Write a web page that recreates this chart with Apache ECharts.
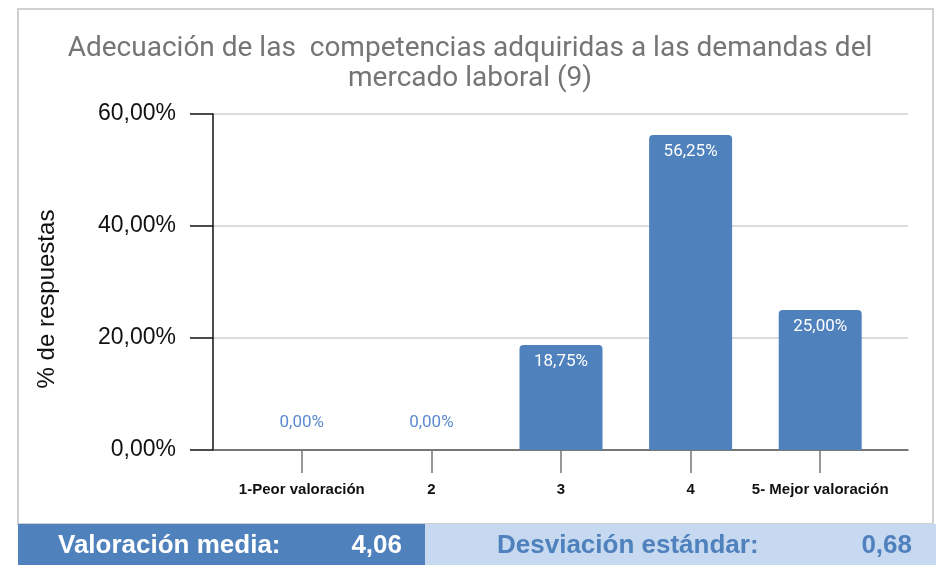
<!DOCTYPE html>
<html>
<head>
<meta charset="utf-8">
<script src="https://cdn.jsdelivr.net/npm/echarts@6/dist/echarts.min.js"></script>
<style>
    html, body { margin: 0; padding: 0; background: #fff; }
    #chartBox { width: 940px; height: 565px; }
</style>
</head>
<body>
<div id="chartBox"></div>
<script>
var categories = ['1-Peor valoración', '2', '3', '4', '5- Mejor valoración'];
var percentValues = [0, 0, 18.75, 56.25, 25];
var yTicks = [0, 20, 40, 60];
var mediaText = '4,06';
var desviacionText = '0,68';

var azul = '#4f81bd';

function fmt(v) {
    return v.toFixed(2).replace('.', ',') + '%';
}

var barData = [];
for (var i = 0; i < percentValues.length; i++) {
    var v = percentValues[i];
    var item = {value: v};
    if (v === 0) {
        // las barras vacías llevan la etiqueta en azul por encima
        item.label = {position: 'top', distance: 19, color: '#5b8bd0'};
    }
    barData.push(item);
}

var myChart1 = echarts.init(document.getElementById('chartBox'));
var option = {
    animation: false,
    title: {
        text: 'Adecuación de las  competencias adquiridas a las demandas del\nmercado laboral (9)',
        left: 'center',
        top: 29,
        textStyle: {
            fontFamily: 'Roboto',
            fontWeight: 'normal',
            fontSize: 28,
            lineHeight: 30,
            color: '#757575'
        }
    },
    grid: [
        {left: 213, right: 32, top: 114, bottom: 115},
        {left: 237, right: 55, top: 114, bottom: 115}
    ],
    xAxis: [
        {
            type: 'value', gridIndex: 0, min: 0, max: 1,
            axisLine: {show: true, lineStyle: {color: '#555', width: 1.5}},
            axisTick: {show: false},
            axisLabel: {show: false},
            splitLine: {show: false}
        },
        {
            type: 'category', gridIndex: 1, data: categories,
            axisLine: {show: false},
            axisTick: {show: true, alignWithLabel: true, length: 23, lineStyle: {color: '#777', width: 1.5}},
            axisLabel: {
                interval: 0,
                margin: 32,
                fontFamily: 'Liberation Sans',
                fontWeight: 'bold',
                fontSize: 15,
                color: '#111'
            }
        }
    ],
    yAxis: [
        {
            type: 'value', gridIndex: 0,
            min: yTicks[0], max: yTicks[yTicks.length - 1], interval: 20,
            name: '% de respuestas',
            nameLocation: 'middle',
            nameGap: 154,
            nameRotate: 90,
            nameTextStyle: {fontFamily: 'Liberation Sans', fontSize: 24, color: '#111', padding: [0, 34, 0, 0]},
            axisLine: {show: true, lineStyle: {color: '#111', width: 1.5}},
            axisTick: {show: true, length: 23, lineStyle: {color: '#111', width: 1.5}},
            axisLabel: {
                margin: 37,
                fontFamily: 'Liberation Sans',
                fontSize: 23,
                color: '#111',
                formatter: function (v) { return fmt(v); }
            },
            splitLine: {show: true, lineStyle: {color: '#d0d0d0', width: 1.5}}
        },
        {
            type: 'value', gridIndex: 1,
            min: yTicks[0], max: yTicks[yTicks.length - 1],
            show: false
        }
    ],
    series: [
        {
            type: 'bar',
            xAxisIndex: 1,
            yAxisIndex: 1,
            data: barData,
            barWidth: 83,
            itemStyle: {color: azul, borderRadius: [4, 4, 0, 0]},
            label: {
                show: true,
                position: 'insideTop',
                distance: 8,
                fontFamily: 'Roboto',
                fontSize: 17,
                color: '#fff',
                formatter: function (p) { return fmt(p.value); }
            }
        }
    ],
    graphic: [
        {
            type: 'rect', z: -1,
            shape: {x: 18, y: 9, width: 915, height: 515},
            style: {fill: 'none', stroke: '#d0d0d0', lineWidth: 2}
        },
        {
            type: 'rect',
            shape: {x: 18, y: 524, width: 407, height: 41},
            style: {fill: azul}
        },
        {
            type: 'rect',
            shape: {x: 425, y: 524, width: 511, height: 41},
            style: {fill: '#c6d9f1'}
        },
        {
            type: 'text', left: 58, top: 533,
            style: {text: 'Valoración media:', fill: '#fff', font: 'bold 26px "Liberation Sans Narrow", "Liberation Sans"'}
        },
        {
            type: 'text', right: 940 - 402, top: 533,
            style: {text: mediaText, fill: '#fff', font: 'bold 26px "Liberation Sans Narrow", "Liberation Sans"'}
        },
        {
            type: 'text', left: 497, top: 533,
            style: {text: 'Desviación estándar:', fill: azul, font: 'bold 26px "Liberation Sans Narrow", "Liberation Sans"'}
        },
        {
            type: 'text', right: 940 - 912, top: 533,
            style: {text: desviacionText, fill: azul, font: 'bold 26px "Liberation Sans Narrow", "Liberation Sans"'}
        }
    ]
};
myChart1.setOption(option);
</script>
</body>
</html>
